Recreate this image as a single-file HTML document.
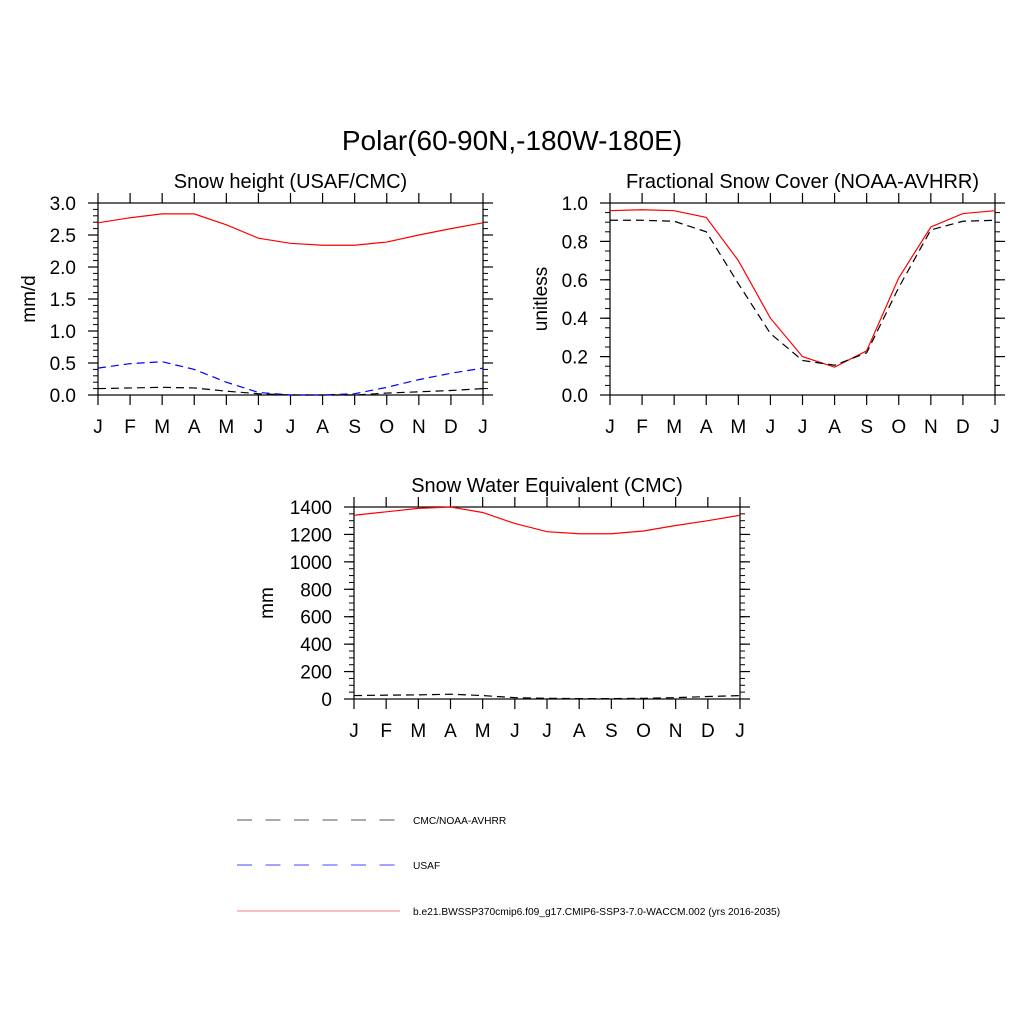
<!DOCTYPE html>
<html><head><meta charset="utf-8">
<style>
body{margin:0;background:#fff;}
svg{display:block;font-family:"Liberation Sans",sans-serif;}
</style></head>
<body>
<svg id="c" width="1024" height="1024" xmlns="http://www.w3.org/2000/svg">
<rect width="1024" height="1024" fill="#fff"/>
<text x="512" y="150" font-size="28" text-anchor="middle">Polar(60-90N,-180W-180E)</text>
<g>
<line x1="237" y1="820" x2="400" y2="820" stroke="#555" stroke-width="1" stroke-dasharray="15,13.5"/>
<text x="413" y="824" font-size="10.2">CMC/NOAA-AVHRR</text>
<line x1="237" y1="865" x2="400" y2="865" stroke="#4444ff" stroke-width="1" stroke-dasharray="15,13.5"/>
<text x="413" y="869" font-size="10.2">USAF</text>
<line x1="237" y1="911" x2="400" y2="911" stroke="#f08080" stroke-width="1"/>
<text x="413" y="915" font-size="10.2">b.e21.BWSSP370cmip6.f09_g17.CMIP6-SSP3-7.0-WACCM.002 (yrs 2016-2035)</text>
</g>
</svg>
<script>
const months = ["J","F","M","A","M","J","J","A","S","O","N","D","J"];
const snowModel = [2.69,2.77,2.83,2.83,2.66,2.45,2.37,2.34,2.34,2.39,2.50,2.60,2.69];
const snowUSAF = [0.42,0.49,0.52,0.40,0.20,0.04,0.0,0.0,0.02,0.12,0.24,0.34,0.42];
const snowCMC = [0.10,0.11,0.12,0.11,0.06,0.02,0.0,0.0,0.0,0.03,0.05,0.07,0.10];
const fscModel = [0.96,0.965,0.96,0.925,0.70,0.40,0.20,0.145,0.23,0.61,0.875,0.945,0.96];
const fscObs = [0.91,0.91,0.905,0.85,0.58,0.32,0.18,0.155,0.22,0.56,0.86,0.905,0.91];
const sweModel = [1340,1365,1390,1400,1360,1280,1220,1205,1205,1225,1265,1300,1340];
const sweObs = [25,28,30,35,25,10,5,3,3,5,10,18,25];
const snowTicks = ["0.0","0.5","1.0","1.5","2.0","2.5","3.0"];
const fscTicks = ["0.0","0.2","0.4","0.6","0.8","1.0"];
const sweTicks = ["0","200","400","600","800","1000","1200","1400"];

const NS="http://www.w3.org/2000/svg";
const svg=document.getElementById('c');
function mk(t,a,p){const e=document.createElementNS(NS,t);for(const k in a)e.setAttribute(k,a[k]);(p||svg).appendChild(e);return e;}

function panel(o){
  const g=mk('g',{});
  
  
  const {x0,x1,y0,y1,ymax,minor}=o;
  const xs=i=>x0+(x1-x0)*i/(months.length-1);
  const ys=v=>y1-(y1-y0)*v/ymax;
  const frame=mk('rect',{x:x0,y:y0,width:x1-x0,height:y1-y0,fill:'none',stroke:'#000','stroke-width':1.2},g);
  
  
  months.forEach((m,i)=>{
    const x=xs(i);
    mk('line',{x1:x,y1:y1,x2:x,y2:y1+10,stroke:'#000','stroke-width':1.2},g);
    mk('line',{x1:x,y1:y0,x2:x,y2:y0-10,stroke:'#000','stroke-width':1.2},g);
    const t=mk('text',{x:x,y:y1+38,'font-size':19,'text-anchor':'middle'},g);
    t.textContent=m;
    
    
  });
  for(let v=0;v<=ymax+1e-9;v+=minor){
    const y=ys(v);
    mk('line',{x1:x0,y1:y,x2:x0-5,y2:y,stroke:'#000','stroke-width':1},g);
    mk('line',{x1:x1,y1:y,x2:x1+5,y2:y,stroke:'#000','stroke-width':1},g);
  }
  o.ticks.forEach(l=>{
    const y=ys(parseFloat(l));
    mk('line',{x1:x0,y1:y,x2:x0-10,y2:y,stroke:'#000','stroke-width':1.2},g);
    mk('line',{x1:x1,y1:y,x2:x1+10,y2:y,stroke:'#000','stroke-width':1.2},g);
    const t=mk('text',{x:x0-22,y:y+7,'font-size':19,'text-anchor':'end'},g);
    t.textContent=l;
    
    
  });
  const tt=mk('text',{x:(x0+x1)/2,y:y0-15,'font-size':20,'text-anchor':'middle'},g);
  tt.textContent=o.title;
  
  
  const yl=mk('text',{x:0,y:0,'font-size':19,'text-anchor':'middle',transform:`translate(${o.ylx},${(y0+y1)/2}) rotate(-90)`},g);
  yl.textContent=o.ylabel;
  
  
  o.series.forEach(s=>{
    const p=mk('polyline',{points:s.data.map((v,i)=>xs(i)+','+ys(v)).join(' '),fill:'none',stroke:s.color,'stroke-width':1.2,'stroke-dasharray':s.dash||'none'},g);
    
    
  });
}
panel({name:'snow-height-panel',x0:98,x1:483,y0:203,y1:395,ymax:3,minor:0.1,ticks:snowTicks,title:'Snow height (USAF/CMC)',ylabel:'mm/d',ylx:35,
  series:[{data:snowModel,color:'#f00',name:'model-line'},{data:snowUSAF,color:'#00f',dash:'8,5',name:'usaf-line'},{data:snowCMC,color:'#000',dash:'8,5',name:'cmc-line'}]});
panel({name:'snow-cover-panel',x0:610,x1:995,y0:203,y1:395,ymax:1,minor:0.05,ticks:fscTicks,title:'Fractional Snow Cover (NOAA-AVHRR)',ylabel:'unitless',ylx:547,
  series:[{data:fscModel,color:'#f00',name:'model-line'},{data:fscObs,color:'#000',dash:'8,5',name:'noaa-line'}]});
panel({name:'swe-panel',x0:354,x1:740,y0:507,y1:699,ymax:1400,minor:50,ticks:sweTicks,title:'Snow Water Equivalent (CMC)',ylabel:'mm',ylx:273,
  series:[{data:sweModel,color:'#f00',name:'model-line'},{data:sweObs,color:'#000',dash:'8,5',name:'cmc-line'}]});
</script>
</body></html>
